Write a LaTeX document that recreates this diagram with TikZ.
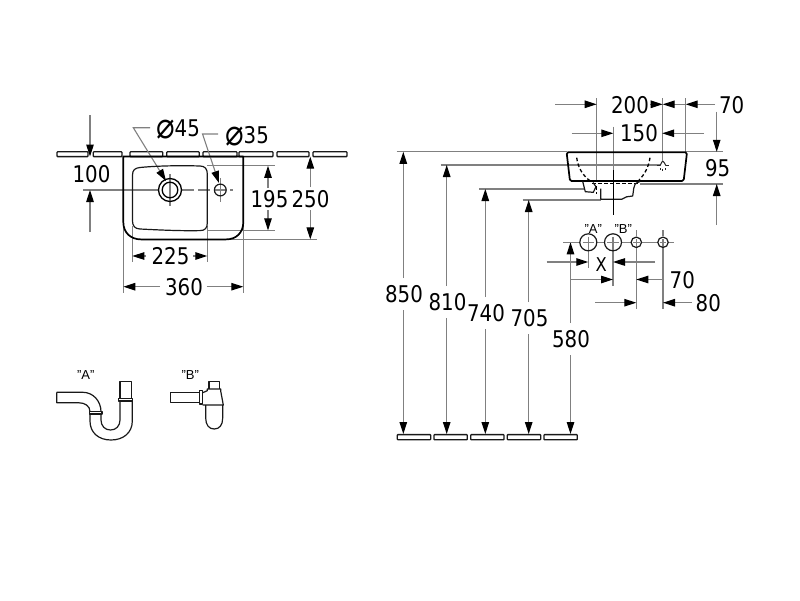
\documentclass[tikz,border=0pt]{standalone}
\usepackage{fontspec}
\setmainfont{Liberation Sans}
\newfontfamily\dimfont[FakeStretch=0.86]{DejaVu Sans}
\newcommand{\diasign}{\raisebox{-2pt}{\fontsize{36}{23}\selectfont ⌀}}
\usetikzlibrary{arrows.meta}
\definecolor{dimgray}{gray}{0.5}
\tikzset{
  dimline/.style={draw=dimgray,line width=1.1pt},
  tipline/.style={dimline,-{Triangle[length=12pt,width=7.5pt,color=black]}},
  part/.style={draw=black,line width=1.7pt,line join=round},
  thin part/.style={draw=black!90,line width=1.2pt,line join=round},
  slab/.style={draw=black!90,line width=1.3pt,rounded corners=0.7pt},
  hidden/.style={draw=black,line width=1.3pt,dash pattern=on 3.5pt off 2.5pt},
  dimtext/.style={inner sep=0pt,font=\dimfont\fontsize{23}{23}\selectfont},
  quote/.style={inner sep=0pt,font=\fontsize{13}{13}\selectfont},
  holecircle/.style={draw=black!90,line width=1.2pt,fill=none}
}
\begin{document}
\begin{tikzpicture}[x=1pt,y=-1pt]
\useasboundingbox (0,0) rectangle (800,600);

% ---------- wall line, plan view
\foreach \a/\b in {57/88,93.3/122,130/162.7,166.7/199.3,203/237,239/273,277/309,313/347}
  \draw[slab] (\a,151.8) rectangle (\b,156.6);

% ---------- plan view dimension lines
\draw[dimline] (83,190) -- (159,190);
\draw[dimline,dash pattern=on 12pt off 4pt] (182,190) -- (233,190);
\draw[dimline] (170,174) -- (170,206);
\draw[dimline] (220.3,178) -- (220.3,202);
\draw[tipline] (90,115) -- (90,156.5);
\draw[tipline] (90,232) -- (90,190);
\node[dimtext] (t100) at (91.5,174) {100};

\draw[tipline] (150,127.7) -- (133.3,127.7) -- (166,181);
\node[dimtext,anchor=base] (t45) at (178,136.7) {\diasign 45};
\draw[tipline] (218,134) -- (202.5,134) -- (219,183);
\node[dimtext,anchor=base] (t35) at (247,143.3) {\diasign 35};

\draw[dimline] (207,165.8) -- (275,165.8);
\draw[dimline] (207,230.4) -- (275,230.4);
\draw[tipline] (268,188) -- (268,165.8);
\draw[tipline] (268,210) -- (268,230.4);
\node[dimtext] (t195) at (269.5,199) {195};

\draw[dimline] (230,239.4) -- (317,239.4);
\draw[tipline] (310.3,187) -- (310.3,156.6);
\draw[tipline] (310.3,210) -- (310.3,239.4);
\node[dimtext] (t250) at (310.5,199) {250};

\draw[dimline] (132.3,226) -- (132.3,262);
\draw[dimline] (207.3,226) -- (207.3,262);
\draw[tipline] (146,256) -- (132.3,256);
\draw[tipline] (193,256) -- (207.3,256);
\node[dimtext] (t225) at (170.5,256.5) {225};

\draw[dimline] (123.3,225) -- (123.3,293);
\draw[dimline] (243.3,225) -- (243.3,293);
\draw[tipline] (160,286.7) -- (123.3,286.7);
\draw[tipline] (206.7,286.7) -- (243.3,286.7);
\node[dimtext] (t360) at (184,286.7) {360};

% ---------- basin, plan view
\draw[part] (123.3,156.4) -- (243.3,156.4) -- (243.3,222)
  .. controls (243.3,233) and (236,239.4) .. (226,239.4) -- (141,239.4)
  .. controls (131,239.4) and (123.3,233) .. (123.3,222) -- cycle;
\draw[thin part] (140,167.5) .. controls (160,165.5) and (185,165.5) .. (200,166)
  .. controls (205,166) and (207.3,169) .. (207.3,174) -- (207.3,223)
  .. controls (207.3,228) and (205,230.6) .. (200,230.6)
  .. controls (180,231) and (160,230) .. (140,229)
  .. controls (135,228.8) and (132.5,226) .. (132.5,221) -- (132.5,175)
  .. controls (132.5,170) and (135,168) .. (140,167.5) -- cycle;
\draw[part,line width=1.3pt] (170,190) circle (11.5);
\draw[part,line width=1.3pt] (170,190) circle (7.8);
\draw[holecircle] (220.3,190) circle (5.9);

% ---------- traps
\node[quote] (qA) at (85.7,375.5) {"A"};
\draw[thin part] (56.7,392.3) -- (83,392.3) .. controls (93,392.3) and (101,401) .. (101,411.7);
\draw[thin part] (56.7,392.3) -- (56.7,402.7) -- (78.3,402.7) .. controls (85,402.7) and (90,406) .. (90,411.7);
\draw[thin part] (89.5,411.2) rectangle (102,414);
\draw[thin part] (90,414) -- (90,421) .. controls (90,433) and (99,440) .. (111,440)
  .. controls (123,440) and (132.3,433) .. (132.3,421) -- (132.3,401);
\draw[thin part] (101,414) -- (101,420) .. controls (101,426) and (105,430) .. (110.5,430)
  .. controls (116,430) and (120,426) .. (120,420) -- (120,401);
\draw[thin part] (118.3,398.2) rectangle (132.7,401);
\draw[thin part] (120,398.2) -- (120,381.7) -- (131.7,381.7) -- (131.7,398.2);

\node[quote] (qB) at (190.3,375.5) {"B"};
\draw[thin part] (199.3,392.3) -- (170.7,392.3) -- (170.7,402.7) -- (199.3,402.7);
\draw[thin part] (199.3,390.3) rectangle (202.7,404);
\draw[thin part] (202.7,392.7) -- (207.3,390.7) -- (207.3,389) -- (220.7,389) -- (220.7,391) -- (223.3,405) -- (202.7,405);
\draw[thin part] (209,389) -- (209,381.7) -- (219.5,381.7) -- (219.5,389);
\draw[thin part] (205.7,405) -- (205.7,418) .. controls (205.7,425) and (209,429) .. (214.2,429)
  .. controls (219.5,429) and (222.7,425) .. (222.7,418) -- (222.7,405);

% ---------- elevation: height dimensions
\draw[dimline] (396.7,151.8) -- (567,151.8);
\draw[dimline] (440.7,165) -- (660,165);
\draw[dimline] (479,189) -- (585,189);
\draw[dimline] (522.7,200) -- (601,200);
\draw[tipline] (403.3,278) -- (403.3,151.8);
\draw[tipline] (403.3,310) -- (403.3,434);
\node[dimtext] (t850) at (404,294) {850};
\draw[tipline] (446.7,286) -- (446.7,165);
\draw[tipline] (446.7,318) -- (446.7,434);
\node[dimtext] (t810) at (447.5,302) {810};
\draw[tipline] (485.3,297) -- (485.3,189);
\draw[tipline] (485.3,329) -- (485.3,434);
\node[dimtext] (t740) at (486,313) {740};
\draw[tipline] (528.7,302) -- (528.7,200);
\draw[tipline] (528.7,334) -- (528.7,434);
\node[dimtext] (t705) at (529.5,318) {705};
\draw[tipline] (570.5,323) -- (570.5,242.3);
\draw[tipline] (570.5,355) -- (570.5,434);
\node[dimtext] (t580) at (571,339) {580};

\foreach \a/\b in {397.3/430.7,434/467.3,470.7/504,507.3/540.7,544/577.3}
  \draw[slab] (\a,434.6) rectangle (\b,439.8);

% ---------- elevation: top dimensions
\draw[dimline] (596.7,98) -- (596.7,181);
\draw[dimline] (662.7,98) -- (662.7,160);
\draw[dimline] (685.7,98) -- (685.7,152);
\draw[dimline] (613.3,126.7) -- (613.3,170);
\draw[tipline] (555,104.3) -- (596.7,104.3);
\draw[tipline] (650,104.3) -- (662.7,104.3);
\node[dimtext] (t200) at (630,105) {200};
\draw[tipline] (685.7,104.3) -- (662.7,104.3);
\draw[tipline] (715,104.3) -- (685.7,104.3);
\node[dimtext] (t70a) at (731.7,105) {70};
\draw[tipline] (571.7,133.3) -- (613.3,133.3);
\draw[tipline] (704,133.3) -- (662.2,133.3);
\node[dimtext] (t150) at (639,133.5) {150};
\draw[dimline] (686,151.8) -- (723,151.8);
\draw[dimline] (640,184) -- (723,184);
\draw[tipline] (716.7,111.7) -- (716.7,151.8);
\draw[tipline] (716.7,225) -- (716.7,184);
\node[dimtext] (t95) at (717.7,168.5) {95};

% ---------- basin, side view
\draw[part] (568,152.3) -- (685.5,152.3) .. controls (686.5,152.3) and (686.9,153) .. (686.8,154)
  -- (683.8,179.5) .. controls (683.6,180.7) and (683,181) .. (682,181) -- (571.5,181)
  .. controls (570.5,181) and (570,180.7) .. (569.8,179.5) -- (566.8,154)
  .. controls (566.7,153) and (567,152.3) .. (568,152.3) -- cycle;
\draw[hidden] (576.7,157.7) .. controls (578,168) and (583,176) .. (591,181.5);
\draw[hidden] (592,183.3) -- (638,183.3);
\draw[hidden] (650,157.7) .. controls (648.5,167) and (645,174) .. (639,180);
\draw[thin part] (640,181.5) .. controls (635,183) and (634,185) .. (633.8,188) -- (632.7,196)
  -- (626.7,196.8) -- (621.7,199.3) -- (600.7,199.3) -- (600.7,188.5);
\draw[thin part] (582.7,181.5) -- (585.3,191.7) -- (593.3,192.3) -- (596,186.7) -- (593,182.5);
\draw[black,line width=1.2pt] (613.3,170) -- (613.3,215);
\draw[hidden,line width=1pt] (596.5,186) -- (596.5,194);
\draw[black!85,line width=1pt] (656.7,165.7) -- (660,165.7);
\draw[black!85,line width=1pt] (666,165.7) -- (669.3,165.7);
\draw[black!85,line width=1pt] (660,165.7) .. controls (661,163) and (662,162) .. (662.7,161) .. controls (663.5,162) and (665,163) .. (666,165.7);
\draw[black!85,line width=1pt] (660.7,168) -- (660.7,170);
\draw[black!85,line width=1pt] (665,168) -- (665,170);
\draw[black!85,line width=1pt] (662.8,168.5) -- (662.8,171);

% ---------- holes
\draw[dimline] (563,242.3) -- (580,242.3);
\draw[dimline] (597,242.3) -- (604.5,242.3);
\draw[dimline] (621.5,242.3) -- (631,242.3);
\draw[dimline] (641.6,242.3) -- (657.7,242.3);
\draw[dimline] (668.3,242.3) -- (674,242.3);
\draw[dimline] (582.5,242.3) -- (594.1,242.3) (588.3,236.5) -- (588.3,268);
\draw[dimline] (607.2,242.3) -- (618.8,242.3) (613,236.5) -- (613,286);
\draw[dimline] (633,242.3) -- (639.6,242.3) (636.3,230) -- (636.3,236) (636.3,239) -- (636.3,309);
\draw[dimline] (659.7,242.3) -- (666.3,242.3) (663,230) -- (663,236) (663,239) -- (663,309);
\draw[holecircle] (588.3,242.3) circle (8.5);
\draw[holecircle] (613,242.3) circle (8.5);
\draw[holecircle] (636.3,242.3) circle (5.2);
\draw[holecircle] (663,242.3) circle (5.2);
\node[quote] (qA2) at (593.3,229.3) {"A"};
\node[quote] (qB2) at (623.3,229.3) {"B"};

\draw[tipline] (546.7,262) -- (588.3,262);
\draw[tipline] (655,262) -- (613,262);
\node[dimtext,font=\dimfont\fontsize{19}{19}\selectfont] (tX) at (601.3,264.3) {X};
\draw[tipline] (570.5,279.5) -- (613,279.5);
\draw[tipline] (664,279.5) -- (636.3,279.5);
\node[dimtext] (t70b) at (682.3,280.5) {70};
\draw[tipline] (595,302.7) -- (636.3,302.7);
\draw[tipline] (691.7,302.7) -- (663,302.7);
\node[dimtext] (t80) at (708.3,303.5) {80};
\end{tikzpicture}
\end{document}
